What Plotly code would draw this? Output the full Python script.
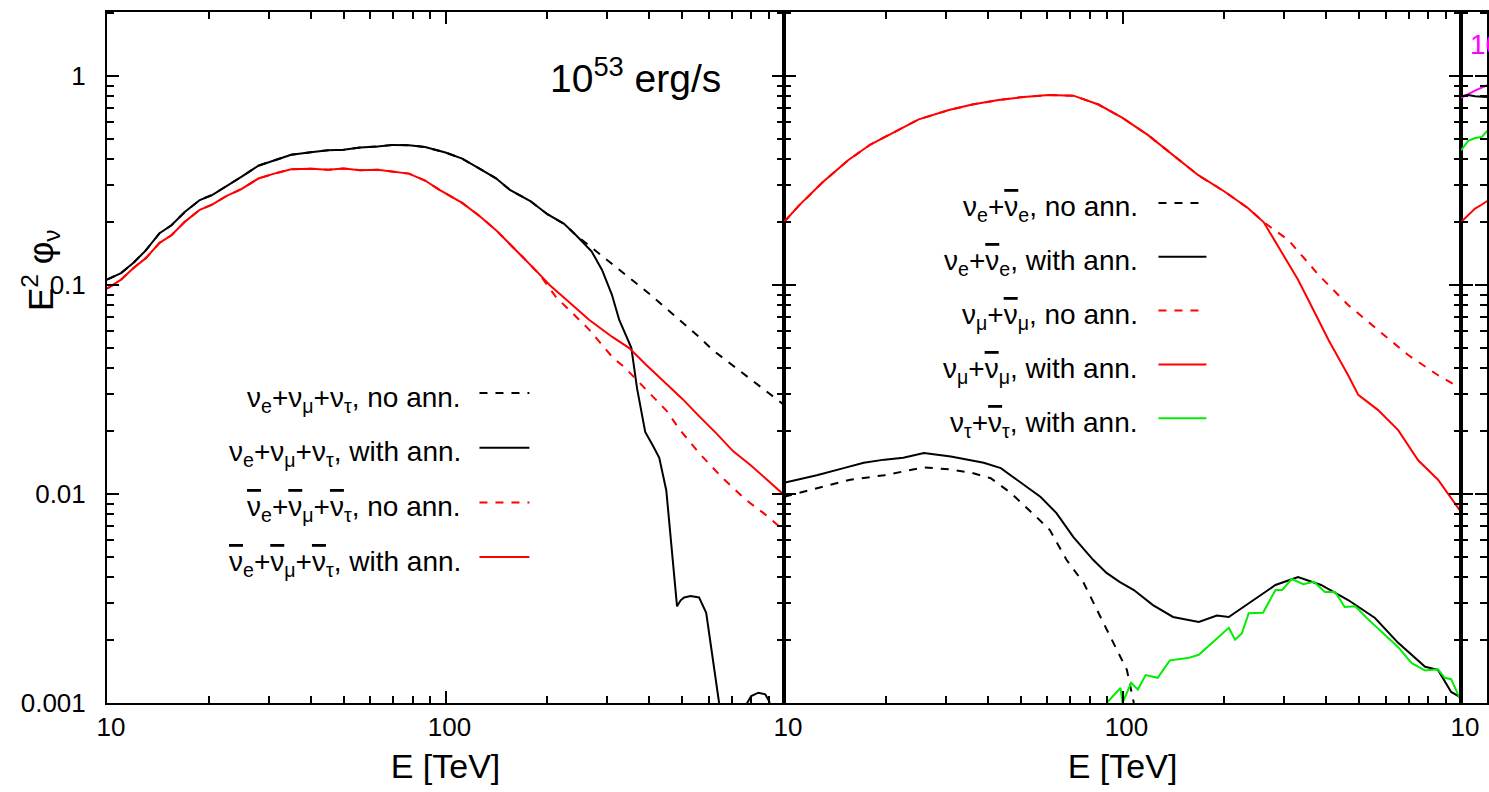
import plotly.graph_objects as go

FONT = "Liberation Sans, Arial, Helvetica, sans-serif"
RED = "#ff0000"
GREEN = "#00ee00"
MAGENTA = "#ff00ff"
BLACK = "#000000"

# ---------------- left panel: all flavours, 10^53 erg/s ----------------
E_nu = [10, 11, 12, 13, 14.3, 15.5, 17, 18.8, 20.5, 22.5, 25, 28, 31, 35, 40, 45,
        50, 56, 63, 70, 78, 87, 100, 112, 126, 141, 155, 178, 200, 224, 243]
nu_common = [0.106, 0.114, 0.128, 0.146, 0.177, 0.193, 0.224, 0.255, 0.27, 0.298,
             0.33, 0.372, 0.392, 0.42, 0.432, 0.441, 0.443, 0.455, 0.46, 0.468,
             0.466, 0.457, 0.43, 0.402, 0.36, 0.324, 0.285, 0.252, 0.218, 0.196, 0.173]

E_nu_noann_tail = [282, 316, 373, 398, 447, 501, 562, 614, 708, 794, 891, 1000]
nu_noann_tail = [0.143, 0.123, 0.100, 0.0913, 0.0776, 0.0662, 0.0563, 0.049,
                 0.0411, 0.0354, 0.0307, 0.0267]

E_nu_ann_tail = [270, 290, 310, 326, 354, 368, 389, 410, 428, 449, 466, 483, 495,
                 507, 530, 561, 589, 643, 700, 760, 778, 800, 840, 880, 904, 960, 1000]
nu_ann_tail = [0.145, 0.118, 0.09, 0.068, 0.05, 0.032, 0.0198, 0.017, 0.0149,
               0.0104, 0.0055, 0.0029, 0.0031, 0.0032, 0.00325, 0.0032, 0.0027,
               0.001, 0.0005, 0.0006, 0.001, 0.00108, 0.00112, 0.0011, 0.00102,
               0.0006, 0.0004]

E_anu = [10, 11, 12, 13, 14.3, 15.5, 17, 18.8, 20.5, 22.5, 25, 28, 31, 35, 40, 45,
         50, 56, 63, 70, 78, 87, 96, 112, 126, 141, 151, 169, 189]
anu_common = [0.096, 0.106, 0.121, 0.134, 0.159, 0.173, 0.201, 0.229, 0.243, 0.266,
              0.288, 0.323, 0.34, 0.358, 0.36, 0.356, 0.361, 0.354, 0.356, 0.348,
              0.341, 0.316, 0.285, 0.247, 0.214, 0.183, 0.163, 0.136, 0.113]

E_anu_ann_tail = [203, 228, 266, 311, 349, 392, 447, 501, 562, 631, 708, 794, 891, 1000]
anu_ann_tail = [0.1, 0.0848, 0.068, 0.0564, 0.0499, 0.0414, 0.034, 0.0285, 0.0235,
                0.0195, 0.016, 0.0138, 0.0117, 0.0099]

E_anu_noann_tail = [212, 237, 266, 311, 340, 368, 408, 450, 490, 561, 656, 773, 870, 1000]
anu_noann_tail = [0.0875, 0.0734, 0.061, 0.0452, 0.04, 0.035, 0.0295, 0.025, 0.0205,
                  0.0157, 0.012, 0.00935, 0.0081, 0.0067]

# ---------------- right panel: flavour split ----------------
E_mu = [10, 11.1, 13, 15.5, 18, 21.8, 25, 30.7, 36, 43, 50, 60.5, 71.6, 84.9, 100,
        119, 140, 167, 200, 235, 261]
mu_common = [0.2, 0.241, 0.31, 0.396, 0.47, 0.551, 0.62, 0.687, 0.73, 0.767, 0.79,
             0.81, 0.805, 0.73, 0.63, 0.521, 0.42, 0.336, 0.28, 0.233, 0.2]
E_mu_ann_tail = [299, 330, 354, 406, 464, 497, 569, 652, 747, 855, 1000]
mu_ann_tail = [0.139, 0.106, 0.0848, 0.0545, 0.037, 0.0298, 0.0252, 0.0202, 0.0145,
               0.0117, 0.0082]
E_mu_noann_tail = [309, 379, 464, 569, 698, 855, 1000]
mu_noann_tail = [0.164, 0.112, 0.0802, 0.0608, 0.0462, 0.037, 0.032]

E_e_ann = [10, 12.5, 15, 17.2, 19.8, 22.5, 25.9, 31.1, 38.9, 43.7, 47.7, 52, 57.3,
           63.8, 71.6, 82, 89.7, 98, 108, 123, 141, 168, 190, 206, 236, 283, 330,
           386, 464, 557, 652, 783, 855, 935, 1000]
e_ann = [0.0113, 0.0123, 0.0133, 0.0141, 0.0146, 0.0149, 0.0157, 0.0151, 0.0141,
         0.0133, 0.012, 0.0108, 0.00967, 0.0081, 0.00622, 0.00483, 0.00419, 0.0038,
         0.00347, 0.00294, 0.00258, 0.00244, 0.00262, 0.00258, 0.003, 0.00367,
         0.004, 0.00367, 0.00311, 0.00255, 0.00194, 0.00149, 0.00144, 0.00113, 0.00106]

E_e_noann = [10, 12.5, 15.7, 19.8, 25.9, 31.1, 36, 40.8, 46.8, 55.7, 61, 68.4, 76.8,
             87.9, 103, 108, 115]
e_noann = [0.0097, 0.0106, 0.0117, 0.0123, 0.0134, 0.0131, 0.0126, 0.0119, 0.0101,
           0.00776, 0.00672, 0.00483, 0.00375, 0.00241, 0.00144, 0.001, 0.0007]

E_tau_ann = [89.8, 98.6, 100, 106, 111, 117, 127, 138, 156, 168, 206, 215, 225, 236,
             260, 283, 296, 316, 342, 368, 396, 425, 453, 487, 528, 567, 652, 715,
             783, 855, 895, 935, 1000]
tau_ann = [0.001, 0.00118, 0.001, 0.00125, 0.00116, 0.00136, 0.00132, 0.0016,
           0.00164, 0.0017, 0.00229, 0.00201, 0.00215, 0.00269, 0.0027, 0.00347,
           0.00347, 0.00392, 0.0037, 0.0038, 0.0034, 0.0034, 0.00288, 0.0029,
           0.00254, 0.00229, 0.00185, 0.00155, 0.00143, 0.00145, 0.00132, 0.0013,
           0.00102]

# ---------------- third panel (only its first sliver is on the page) ----------------
E_p3 = [10, 10.5, 11, 11.5, 12, 12.5]
p3_magenta = [0.785, 0.82, 0.85, 0.88, 0.906, 0.93]
p3_black = [0.80, 0.81, 0.80, 0.795, 0.79, 0.79]
p3_green = [0.44, 0.49, 0.505, 0.51, 0.55, 0.58]
p3_red = [0.2, 0.216, 0.232, 0.242, 0.252, 0.265]

# axis ticks
major_x = [10, 100, 1000]
major_x_text = ["10", "100", ""]
major_y = [0.001, 0.01, 0.1, 1]
major_y_text = ["0.001", "0.01", "0.1", "1"]
digits = [2, 3, 4, 5, 6, 7, 8, 9]
minor_x = [d * m for m in (10, 100) for d in digits]
minor_y = [d * m for m in (0.001, 0.01, 0.1, 1) for d in digits]

# ---------------- figure geometry ----------------
W, H = 1489, 792
ML, MT, MB = 107, 12, 89
PW = W - ML
PH = H - MT - MB
PANEL = 678
d1 = PANEL / PW
d2 = 2 * PANEL / PW
X3_TOP = 1 + (PW - 2 * PANEL) / 339


def px(x):
    return (x - ML) / PW


def py(y):
    return (H - MB - y) / PH


fig = go.Figure()


def line(x, y, color, dash, xa, ya):
    fig.add_trace(go.Scatter(x=x, y=y, mode="lines", xaxis=xa, yaxis=ya,
                             line=dict(color=color, width=2, dash=dash),
                             showlegend=False, hoverinfo="skip"))


DASH = "8px,8px"
# left panel
line(E_nu + E_nu_noann_tail, nu_common + nu_noann_tail, BLACK, DASH, "x", "y")
line(E_nu + E_nu_ann_tail, nu_common + nu_ann_tail, BLACK, "solid", "x", "y")
line(E_anu + E_anu_noann_tail, anu_common + anu_noann_tail, RED, DASH, "x", "y")
line(E_anu + E_anu_ann_tail, anu_common + anu_ann_tail, RED, "solid", "x", "y")
# right panel
line(E_e_noann, e_noann, BLACK, DASH, "x2", "y2")
line(E_e_ann, e_ann, BLACK, "solid", "x2", "y2")
line(E_mu + E_mu_noann_tail, mu_common + mu_noann_tail, RED, DASH, "x2", "y2")
line(E_mu + E_mu_ann_tail, mu_common + mu_ann_tail, RED, "solid", "x2", "y2")
line(E_tau_ann, tau_ann, GREEN, "solid", "x2", "y2")
# third panel
line(E_p3, p3_magenta, MAGENTA, "solid", "x3", "y3")
line(E_p3, p3_black, BLACK, "solid", "x3", "y3")
line(E_p3, p3_green, GREEN, "solid", "x3", "y3")
line(E_p3, p3_red, RED, "solid", "x3", "y3")

tickfont = dict(family=FONT, size=26, color="black")


def xaxis(domain, rng, labels, title):
    return dict(type="log", domain=domain, range=rng, showline=True, linecolor="black",
                linewidth=2, mirror="ticks", ticks="inside", ticklen=12, tickwidth=1.5,
                tickcolor="black", showgrid=False, zeroline=False, tickfont=tickfont,
                tickmode="array", tickvals=major_x, ticktext=labels, ticklabelshift=4,
                minor=dict(ticks="inside", ticklen=7, tickwidth=1.5, tickcolor="black",
                           showgrid=False, tickmode="array", tickvals=minor_x),
                title=dict(text=title, font=dict(family=FONT, size=34, color="black"),
                           standoff=13))


def yaxis(anchor, show):
    return dict(type="log", domain=[0, 1], range=[-3, 0.306], anchor=anchor,
                showline=True, linecolor="black", linewidth=2, mirror="ticks",
                ticks="inside", ticklen=12, tickwidth=1.5, tickcolor="black",
                showgrid=False, zeroline=False, tickfont=tickfont,
                showticklabels=show, tickmode="array", tickvals=major_y,
                ticktext=major_y_text, ticklabelstandoff=14,
                minor=dict(ticks="inside", ticklen=7, tickwidth=1.5, tickcolor="black",
                           showgrid=False, tickmode="array", tickvals=minor_y))


fig.update_layout(
    width=W, height=H,
    margin=dict(l=ML, r=0, t=MT, b=MB, pad=0),
    paper_bgcolor="white", plot_bgcolor="white",
    font=dict(family=FONT, color="black"),
    xaxis=dict(xaxis([0, d1], [1, 3], major_x_text, "E [TeV]"), anchor="y"),
    xaxis2=dict(xaxis([d1, d2], [1, 3], major_x_text, "E [TeV]"), anchor="y2"),
    xaxis3=dict(xaxis([d2, 1], [1, X3_TOP], ["10", "", ""], ""), anchor="y3"),
    yaxis=yaxis("x", True),
    yaxis2=yaxis("x2", False),
    yaxis3=yaxis("x3", False),
)

ann = []
shapes = []
# y-axis title
ann.append(dict(text="E<sup>2</sup> φ<sub>ν</sub>", xref="paper", yref="paper",
                x=px(40), y=py(270), textangle=-90, showarrow=False,
                font=dict(family=FONT, size=35), xanchor="center", yanchor="middle"))
# luminosity labels
ann.append(dict(text="10<sup>53</sup> erg/s", xref="paper", yref="paper",
                x=px(549), y=py(76), showarrow=False, xanchor="left", yanchor="middle",
                font=dict(family=FONT, size=39)))
ann.append(dict(text="10<sup>54</sup> erg/s", xref="paper", yref="paper",
                x=px(1470), y=py(42), showarrow=False, xanchor="left", yanchor="middle",
                font=dict(family=FONT, size=28, color=MAGENTA)))

NUB = '<span style="text-decoration:overline">ν</span>'
legend_left = [
    ("ν<sub>e</sub>+ν<sub>μ</sub>+ν<sub>τ</sub>, no ann.", BLACK, "dash"),
    ("ν<sub>e</sub>+ν<sub>μ</sub>+ν<sub>τ</sub>, with ann.", BLACK, "solid"),
    (f"{NUB}<sub>e</sub>+{NUB}<sub>μ</sub>+{NUB}<sub>τ</sub>, no ann.", RED, "dash"),
    (f"{NUB}<sub>e</sub>+{NUB}<sub>μ</sub>+{NUB}<sub>τ</sub>, with ann.", RED, "solid"),
]
legend_right = [
    (f"ν<sub>e</sub>+{NUB}<sub>e</sub>, no ann.", BLACK, "dash"),
    (f"ν<sub>e</sub>+{NUB}<sub>e</sub>, with ann.", BLACK, "solid"),
    (f"ν<sub>μ</sub>+{NUB}<sub>μ</sub>, no ann.", RED, "dash"),
    (f"ν<sub>μ</sub>+{NUB}<sub>μ</sub>, with ann.", RED, "solid"),
    (f"ν<sub>τ</sub>+{NUB}<sub>τ</sub>, with ann.", GREEN, "solid"),
]


def add_legend(entries, text_right, line_x0, line_x1, y0, step):
    for i, (label, color, dash) in enumerate(entries):
        yc = y0 + i * step
        ann.append(dict(text=label, xref="paper", yref="paper", x=px(text_right),
                        y=py(yc + 6), showarrow=False, xanchor="right", yanchor="middle",
                        font=dict(family=FONT, size=28)))
        shapes.append(dict(type="line", xref="paper", yref="paper",
                           x0=px(line_x0), x1=px(line_x1), y0=py(yc), y1=py(yc),
                           line=dict(color=color, width=2,
                                     dash="8px,8px" if dash == "dash" else "solid")))


add_legend(legend_left, 464, 480, 530, 393, 54.7)
add_legend(legend_right, 1141, 1160, 1208, 203, 53.8)

fig.update_layout(annotations=ann, shapes=shapes)
fig.write_html("out.html")
